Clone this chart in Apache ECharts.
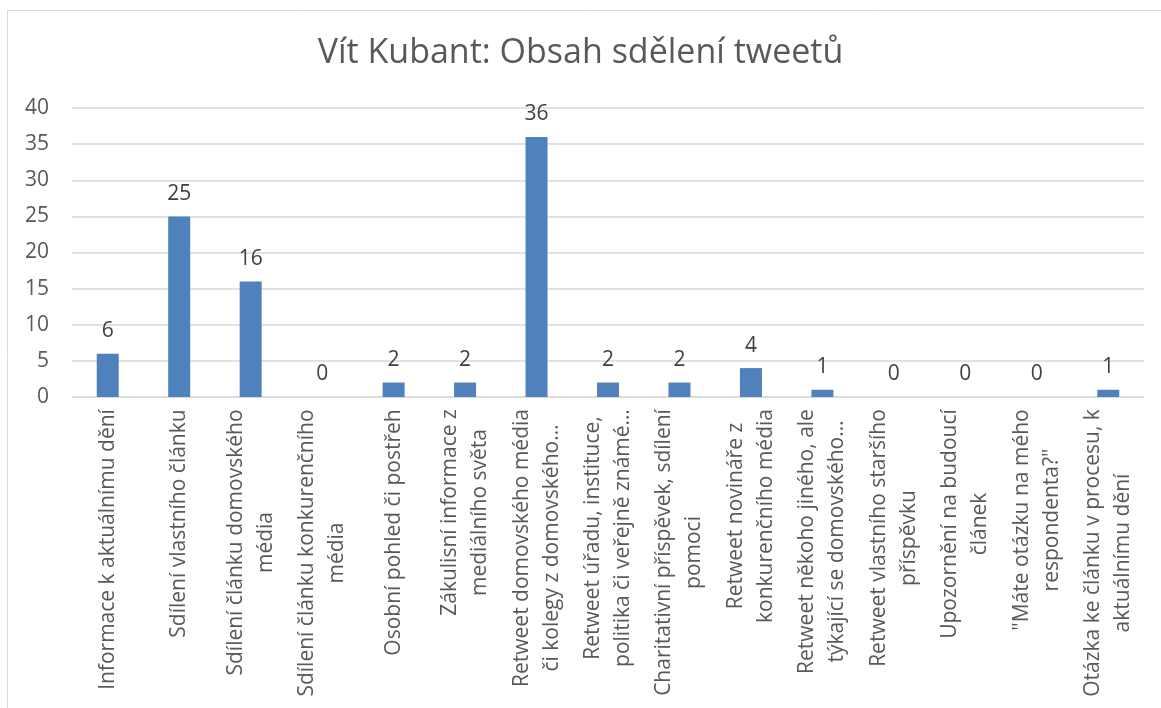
<!DOCTYPE html>
<html>
<head>
<meta charset="utf-8">
<script src="https://cdn.jsdelivr.net/npm/echarts@6/dist/echarts.min.js"></script>
<style>
  html, body { margin: 0; padding: 0; background: #fff; }
  #chart { width: 1161px; height: 708px; }
</style>
</head>
<body>
<div id="chart"></div>
<script>
const title = 'Vít Kubant: Obsah sdělení tweetů';

const categories = [
  'Informace k aktuálnímu dění',
  'Sdílení vlastního článku',
  'Sdílení článku domovského\nmédia',
  'Sdílení článku konkurenčního\nmédia',
  'Osobní pohled či postřeh',
  'Zákulisní informace z\nmediálního světa',
  'Retweet domovského média\nči kolegy z domovského…',
  'Retweet úřadu, instituce,\npolitika či veřejně známé…',
  'Charitativní příspěvek, sdílení\npomoci',
  'Retweet novináře z\nkonkurenčního média',
  'Retweet někoho jiného, ale\ntýkající se domovského…',
  'Retweet vlastního staršího\npříspěvku',
  'Upozornění na budoucí\nčlánek',
  '"Máte otázku na mého\nrespondenta?"',
  'Otázka ke článku v procesu, k\naktuálnímu dění'
];

const values = [6, 25, 16, 0, 2, 2, 36, 2, 2, 4, 1, 0, 0, 0, 1];

const yTicks = [0, 5, 10, 15, 20, 25, 30, 35, 40];

const font = '"Open Sans", "DejaVu Sans", sans-serif';
const textColor = '#595959';
const lineColor = '#d9d9d9';
const labelSize = 21;

// excel centres the wrapped lines, so every label gets a fixed-width box
const ctx = document.createElement('canvas').getContext('2d');
ctx.font = labelSize + 'px ' + font;
const rich = {};
categories.forEach(function (c, i) {
  let w = 0;
  c.split('\n').forEach(function (s) { w = Math.max(w, ctx.measureText(s).width); });
  rich['l' + i] = {
    width: Math.ceil(w),
    align: 'center',
    fontFamily: font,
    fontSize: labelSize,
    color: textColor,
    lineHeight: 30
  };
});

const chart = echarts.init(document.getElementById('chart'), null, { renderer: 'canvas' });

chart.setOption({
  backgroundColor: '#fff',
  animation: false,
  title: {
    text: title,
    left: 'center',
    top: 31,
    textStyle: { fontFamily: font, fontSize: 34, fontWeight: 'normal', color: textColor }
  },
  graphic: [{
    type: 'rect',
    shape: { x: 7.5, y: 10.5, width: 1170, height: 720 },
    style: { fill: 'none', stroke: lineColor, lineWidth: 1 },
    silent: true
  }],
  grid: { left: 72, right: 17, top: 108, bottom: 311, containLabel: false },
  xAxis: {
    type: 'category',
    data: categories,
    axisLine: { show: true, lineStyle: { color: lineColor, width: 1.5 } },
    axisTick: { show: false },
    axisLabel: {
      interval: 0,
      rotate: 90,
      margin: 12,
      fontFamily: font,
      fontSize: labelSize,
      color: textColor,
      lineHeight: 30,
      formatter: function (v, i) {
        return v.split('\n').map(function (s) { return '{l' + i + '|' + s + '}'; }).join('\n');
      },
      rich: rich
    }
  },
  yAxis: {
    type: 'value',
    min: yTicks[0],
    max: yTicks[yTicks.length - 1],
    interval: 5,
    axisLine: { show: false },
    axisTick: { show: false },
    splitLine: { lineStyle: { color: lineColor, width: 1.5 } },
    axisLabel: { fontFamily: font, fontSize: 21, color: textColor, margin: 23 }
  },
  series: [{
    type: 'bar',
    data: values,
    barWidth: 22,
    itemStyle: { color: '#4f81bd' },
    label: {
      show: true,
      position: 'top',
      distance: 12,
      fontFamily: font,
      fontSize: 21,
      color: '#404040'
    }
  }]
});
</script>
</body>
</html>
